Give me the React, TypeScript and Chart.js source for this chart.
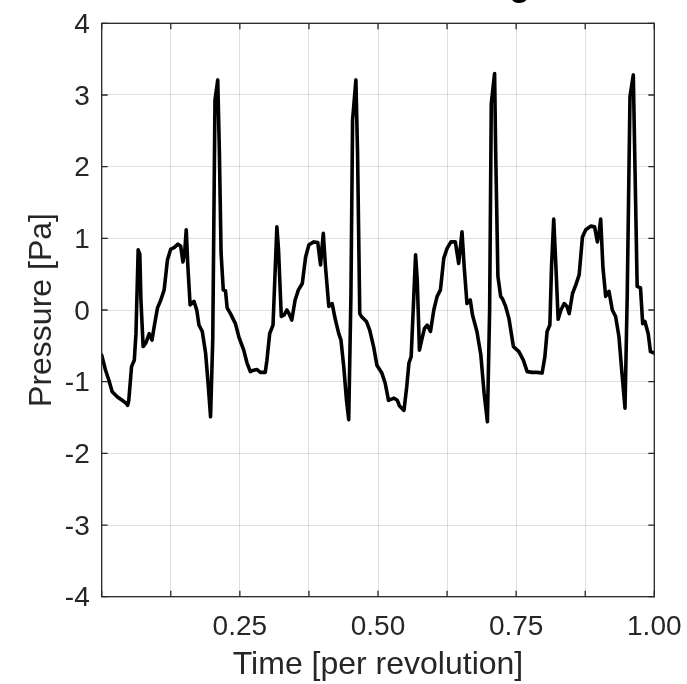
import React, { useEffect, useRef } from 'react';
import { Chart, registerables } from 'chart.js';

Chart.register(...registerables);

// ---- data ----
const timeValues: number[] = [
  0.000, 0.007, 0.013, 0.019, 0.028, 0.037, 0.044, 0.047, 0.049, 0.054,
  0.059, 0.062, 0.066, 0.069, 0.071, 0.075, 0.080, 0.086, 0.091, 0.095,
  0.101, 0.107, 0.113, 0.119, 0.125, 0.131, 0.138, 0.143, 0.147, 0.150,
  0.153, 0.156, 0.160, 0.167, 0.172, 0.176, 0.182, 0.188, 0.193, 0.197,
  0.201, 0.205, 0.210, 0.213, 0.216, 0.220, 0.224, 0.227, 0.233, 0.242,
  0.248, 0.257, 0.263, 0.269, 0.275, 0.281, 0.287, 0.296, 0.299, 0.304,
  0.310, 0.313, 0.317, 0.320, 0.325, 0.330, 0.335, 0.339, 0.344, 0.350,
  0.356, 0.363, 0.369, 0.375, 0.384, 0.391, 0.396, 0.401, 0.405, 0.411,
  0.417, 0.423, 0.429, 0.433, 0.438, 0.443, 0.447, 0.451, 0.454, 0.460,
  0.463, 0.467, 0.470, 0.479, 0.485, 0.492, 0.498, 0.507, 0.513, 0.519,
  0.529, 0.535, 0.539, 0.547, 0.552, 0.556, 0.560, 0.564, 0.568, 0.571,
  0.575, 0.579, 0.584, 0.589, 0.595, 0.601, 0.607, 0.613, 0.619, 0.625,
  0.632, 0.640, 0.646, 0.652, 0.656, 0.661, 0.667, 0.671, 0.679, 0.686,
  0.692, 0.698, 0.702, 0.705, 0.711, 0.713, 0.717, 0.722, 0.725, 0.731,
  0.737, 0.745, 0.755, 0.763, 0.770, 0.779, 0.788, 0.797, 0.802, 0.806,
  0.811, 0.814, 0.818, 0.822, 0.826, 0.831, 0.837, 0.842, 0.846, 0.852,
  0.858, 0.864, 0.870, 0.876, 0.885, 0.892, 0.897, 0.900, 0.903, 0.907,
  0.912, 0.918, 0.924, 0.930, 0.936, 0.941, 0.947, 0.951, 0.956, 0.962,
  0.965, 0.969, 0.975, 0.979, 0.983, 0.989, 0.993, 1.000,
];

const pressureValues: number[] = [
  -0.63, -0.84, -0.98, -1.14, -1.21, -1.26, -1.30, -1.33, -1.26, -0.79,
  -0.70, -0.33, 0.84, 0.78, 0.14, -0.51, -0.46, -0.33, -0.42, -0.23,
  0.03, 0.14, 0.28, 0.70, 0.85, 0.87, 0.92, 0.89, 0.67, 0.79,
  1.12, 0.60, 0.07, 0.12, 0.00, -0.21, -0.30, -0.60, -1.07, -1.49,
  -0.40, 2.93, 3.21, 2.19, 0.80, 0.28, 0.27, 0.03, -0.05, -0.19,
  -0.37, -0.56, -0.74, -0.86, -0.84, -0.83, -0.87, -0.87, -0.70, -0.33,
  -0.21, 0.37, 1.16, 0.84, -0.09, -0.07, 0.00, -0.05, -0.14, 0.14,
  0.28, 0.37, 0.74, 0.91, 0.95, 0.94, 0.63, 1.07, 0.60, 0.05,
  0.09, -0.14, -0.33, -0.42, -0.79, -1.26, -1.53, 0.20, 2.65, 3.21,
  2.19, -0.05, -0.09, -0.16, -0.28, -0.51, -0.77, -0.88, -1.02, -1.26,
  -1.23, -1.26, -1.34, -1.40, -1.07, -0.74, -0.65, 0.05, 0.77, 0.42,
  -0.56, -0.42, -0.26, -0.21, -0.30, 0.00, 0.19, 0.28, 0.72, 0.86,
  0.95, 0.95, 0.65, 1.09, 0.60, 0.09, 0.14, -0.07, -0.30, -0.62,
  -1.16, -1.56, 0.00, 2.88, 3.30, 2.19, 0.47, 0.19, 0.16, 0.05,
  -0.12, -0.51, -0.58, -0.70, -0.86, -0.87, -0.87, -0.88, -0.65, -0.30,
  -0.21, 0.60, 1.27, 0.60, -0.13, 0.00, 0.09, 0.05, -0.05, 0.23,
  0.35, 0.49, 1.02, 1.12, 1.17, 1.16, 0.95, 1.07, 1.27, 0.60,
  0.19, 0.26, 0.00, -0.09, -0.37, -0.84, -1.37, 0.20, 2.98, 3.28,
  2.00, 0.33, 0.31, -0.19, -0.16, -0.33, -0.58, -0.60,
];

const xTickValues: number[] = [0.25, 0.5, 0.75, 1.0];
const xTickLabels: string[] = ['0.25', '0.50', '0.75', '1.00'];
const yTickValues: number[] = [-4, -3, -2, -1, 0, 1, 2, 3, 4];
const yTickLabels: string[] = ['-4', '-3', '-2', '-1', '0', '1', '2', '3', '4'];

const chartTitle = 'Acoustic Loading';
const xAxisTitle = 'Time [per revolution]';
const yAxisTitle = 'Pressure [Pa]';

const FONT = "'Liberation Sans', Arial, Helvetica, sans-serif";
const AXIS_COLOR = '#262626';

const framePlugin = {
  id: 'matlabFrame',
  afterDatasetsDraw(chart: any) {
    const { ctx, chartArea, scales } = chart;
    const { left, right, top, bottom } = chartArea;
    const x = scales.x;
    const y = scales.y;
    const tl = 6;
    ctx.save();
    ctx.strokeStyle = AXIS_COLOR;
    ctx.lineWidth = 1.3;
    ctx.beginPath();
    x.ticks.forEach((t: any) => {
      const px = x.getPixelForValue(t.value);
      ctx.moveTo(px, bottom);
      ctx.lineTo(px, bottom - tl);
      ctx.moveTo(px, top);
      ctx.lineTo(px, top + tl);
    });
    y.ticks.forEach((t: any) => {
      const py = y.getPixelForValue(t.value);
      ctx.moveTo(left, py);
      ctx.lineTo(left + tl, py);
      ctx.moveTo(right, py);
      ctx.lineTo(right - tl, py);
    });
    ctx.stroke();
    ctx.strokeRect(left, top, right - left, bottom - top);
    // title, almost entirely above the visible page
    ctx.fillStyle = '#000000';
    ctx.font = `bold 34px ${FONT}`;
    ctx.textAlign = 'right';
    ctx.textBaseline = 'alphabetic';
    ctx.fillText(chartTitle, 530, -4);
    ctx.restore();
  },
};

export default function App() {
  const canvasRef = useRef<HTMLCanvasElement | null>(null);

  useEffect(() => {
    const canvas = canvasRef.current;
    if (!canvas) return;
    const points = timeValues.map((t, i) => ({ x: t, y: pressureValues[i] }));
    const chart = new Chart(canvas, {
      type: 'scatter',
      data: {
        datasets: [
          {
            data: points,
            showLine: true,
            borderColor: '#000000',
            borderWidth: 3.6,
            borderJoinStyle: 'round',
            borderCapStyle: 'round',
            pointRadius: 0,
            pointHoverRadius: 0,
            tension: 0,
            fill: false,
          },
        ],
      },
      options: {
        animation: false,
        responsive: false,
        devicePixelRatio: 1,
        events: [],
        layout: { padding: { top: 23.3, right: 32.7, left: 0, bottom: 0 } },
        plugins: {
          legend: { display: false },
          tooltip: { enabled: false },
          title: { display: false },
        },
        scales: {
          x: {
            type: 'linear',
            min: 0,
            max: 1,
            afterFit: (scale: any) => {
              scale.height = 87.3;
              scale.paddingLeft = 0;
              scale.paddingRight = 0;
            },
            ticks: {
              stepSize: 0.125,
              autoSkip: false,
              maxRotation: 0,
              padding: 14,
              color: AXIS_COLOR,
              font: { family: FONT, size: 28 },
              callback: (v: any) => {
                const i = xTickValues.findIndex((tv) => Math.abs(tv - Number(v)) < 1e-9);
                return i >= 0 ? xTickLabels[i] : '';
              },
            },
            grid: {
              color: 'rgba(0,0,0,0.12)',
              lineWidth: 1,
              drawTicks: false,
            },
            border: { display: false },
            title: {
              display: true,
              text: xAxisTitle,
              color: AXIS_COLOR,
              font: { family: FONT, size: 32 },
              padding: { top: 0, bottom: 0 },
            },
          },
          y: {
            type: 'linear',
            min: -4,
            max: 4,
            afterFit: (scale: any) => {
              scale.width = 101.7;
              scale.paddingTop = 0;
              scale.paddingBottom = 0;
            },
            ticks: {
              stepSize: 1,
              autoSkip: false,
              padding: 12,
              labelOffset: 2,
              color: AXIS_COLOR,
              font: { family: FONT, size: 28 },
              callback: (v: any) => {
                const i = yTickValues.findIndex((tv) => Math.abs(tv - Number(v)) < 1e-9);
                return i >= 0 ? yTickLabels[i] : '';
              },
            },
            grid: {
              color: 'rgba(0,0,0,0.12)',
              lineWidth: 1,
              drawTicks: false,
            },
            border: { display: false },
            title: {
              display: true,
              text: yAxisTitle,
              color: AXIS_COLOR,
              font: { family: FONT, size: 32 },
              padding: { top: 22.6, bottom: 0 },
            },
          },
        },
      },
      plugins: [framePlugin],
    });
    return () => {
      chart.destroy();
    };
  }, []);

  return (
    <div style={{ position: 'absolute', left: 0, top: 0, width: 687, height: 684, background: '#ffffff' }}>
      <canvas ref={canvasRef} width={687} height={684} style={{ width: 687, height: 684, display: 'block' }} />
    </div>
  );
}
